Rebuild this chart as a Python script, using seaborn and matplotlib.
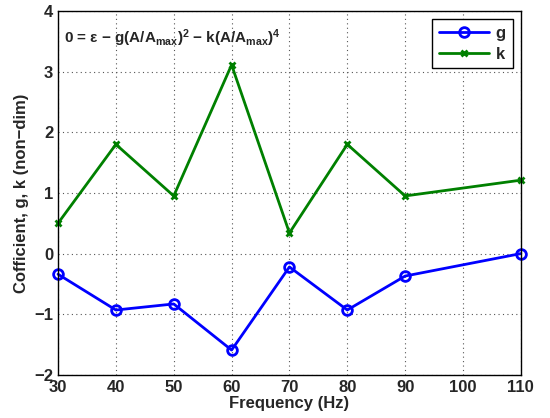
import matplotlib
matplotlib.use("Agg")
import matplotlib.pyplot as plt
import seaborn as sns
import pandas as pd

freq = [30, 40, 50, 60, 70, 80, 90, 110]
g_vals = [-0.34, -0.93, -0.83, -1.59, -0.22, -0.93, -0.37, 0.0]
k_vals = [0.50, 1.80, 0.95, 3.11, 0.34, 1.80, 0.95, 1.21]
x_ticks = [30, 40, 50, 60, 70, 80, 90, 100, 110]
y_ticks = [-2, -1, 0, 1, 2, 3, 4]

sns.set_style("white")
plt.rcParams["font.family"] = ["Liberation Sans", "DejaVu Sans"]
plt.rcParams["font.weight"] = "bold"
plt.rcParams["mathtext.fontset"] = "custom"
plt.rcParams["mathtext.rm"] = "Liberation Sans:bold"
plt.rcParams["mathtext.it"] = "Liberation Sans:bold"
plt.rcParams["mathtext.bf"] = "Liberation Sans:bold"

df = pd.DataFrame({"freq": freq, "g": g_vals, "k": k_vals})

fig = plt.figure(figsize=(5.5, 4.18), dpi=100)
ax = fig.add_axes([0.1055, 0.103, 0.8415, 0.871])

sns.lineplot(data=df, x="freq", y="g", ax=ax, color="#0000ff", marker="o",
             markersize=7, markerfacecolor="none", markeredgecolor="#0000ff",
             markeredgewidth=2, linewidth=2, label="g", clip_on=False)
sns.lineplot(data=df, x="freq", y="k", ax=ax, color="#008000", marker="x",
             markersize=5, markeredgecolor="#008000", markerfacecolor="#008000",
             markeredgewidth=2, linewidth=2, label="k", clip_on=False)

ax.set_xlim(30, 110)
ax.set_ylim(-2, 4)
ax.set_xticks(x_ticks)
ax.set_yticks(y_ticks)
ax.grid(True, linestyle=(0, (1, 3)), color="#555555", linewidth=0.8)
ax.tick_params(direction="in", length=4, labelsize=12, width=1)
for lbl in ax.get_xticklabels() + ax.get_yticklabels():
    lbl.set_fontweight("bold")
for sp in ax.spines.values():
    sp.set_color("black")
    sp.set_linewidth(1)
    sp.set_zorder(5)

ax.set_xlabel("Frequency (Hz)", fontsize=12, fontweight="bold", labelpad=1)
ax.set_ylabel("Cofficient, g, k (non\u2212dim)", fontsize=12, fontweight="bold", labelpad=4)

ax.text(0.012, 0.955,
        r"0 = $\epsilon$ $-$ g(A/A$_{\mathrm{max}}$)$^{2}$ $-$ k(A/A$_{\mathrm{max}}$)$^{4}$",
        transform=ax.transAxes, fontsize=11, fontweight="bold", va="top", ha="left")

leg = ax.legend(loc="upper right", fontsize=12, frameon=True, fancybox=False,
                edgecolor="black", handlelength=3.0, borderpad=0.4,
                labelspacing=0.35, handletextpad=0.4, borderaxespad=0.5)
leg.get_frame().set_linewidth(1)
leg.get_frame().set_alpha(1)
for t in leg.get_texts():
    t.set_fontweight("bold")

fig.savefig("out.png", dpi=100)
